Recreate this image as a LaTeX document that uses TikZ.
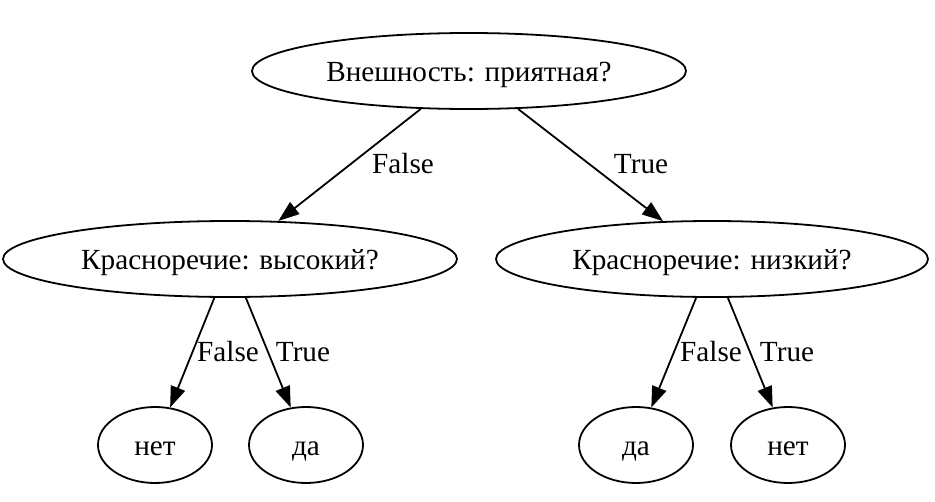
\documentclass[tikz,border=0pt]{standalone}
\usepackage{fontspec}
\setmainfont{Liberation Serif}
\usetikzlibrary{shapes.geometric,arrows.meta}
\begin{document}
\begin{tikzpicture}[x=1pt,y=-1pt,
  every node/.style={font=\fontsize{29.2}{35}\selectfont,text height=26pt,text depth=6pt},
  vert/.style={ellipse,draw,line width=1.8pt,inner sep=0pt},
  edge/.style={line width=1.8pt,-{Triangle[length=21pt,width=15pt]}},
  lbl/.style={inner sep=0pt}]
\useasboundingbox (0,0) rectangle (935,501);
\node[vert,minimum width=434pt,minimum height=76pt] (root) at (469,71) {Внешность: приятная?};
\node[vert,minimum width=454pt,minimum height=76pt] (lm) at (230,259) {Красноречие: высокий?};
\node[vert,minimum width=432pt,minimum height=76pt] (rm) at (712,259) {Красноречие: низкий?};
\node[vert,minimum width=114pt,minimum height=76pt] (l1) at (155,445) {нет};
\node[vert,minimum width=114pt,minimum height=76pt] (l2) at (306,445) {да};
\node[vert,minimum width=114pt,minimum height=76pt] (l3) at (636,445) {да};
\node[vert,minimum width=114pt,minimum height=76pt] (l4) at (788,445) {нет};
\draw[edge] (root) -- (lm);
\draw[edge] (root) -- (rm);
\draw[edge] (lm) -- (l1);
\draw[edge] (lm) -- (l2);
\draw[edge] (rm) -- (l3);
\draw[edge] (rm) -- (l4);
\node[lbl] (t1) at (403,163) {False};
\node[lbl] (t2) at (641,163) {True};
\node[lbl] (t3) at (228,351) {False};
\node[lbl] (t4) at (303,351) {True};
\node[lbl] (t5) at (711,351) {False};
\node[lbl] (t6) at (787,351) {True};
\end{tikzpicture}
\end{document}
